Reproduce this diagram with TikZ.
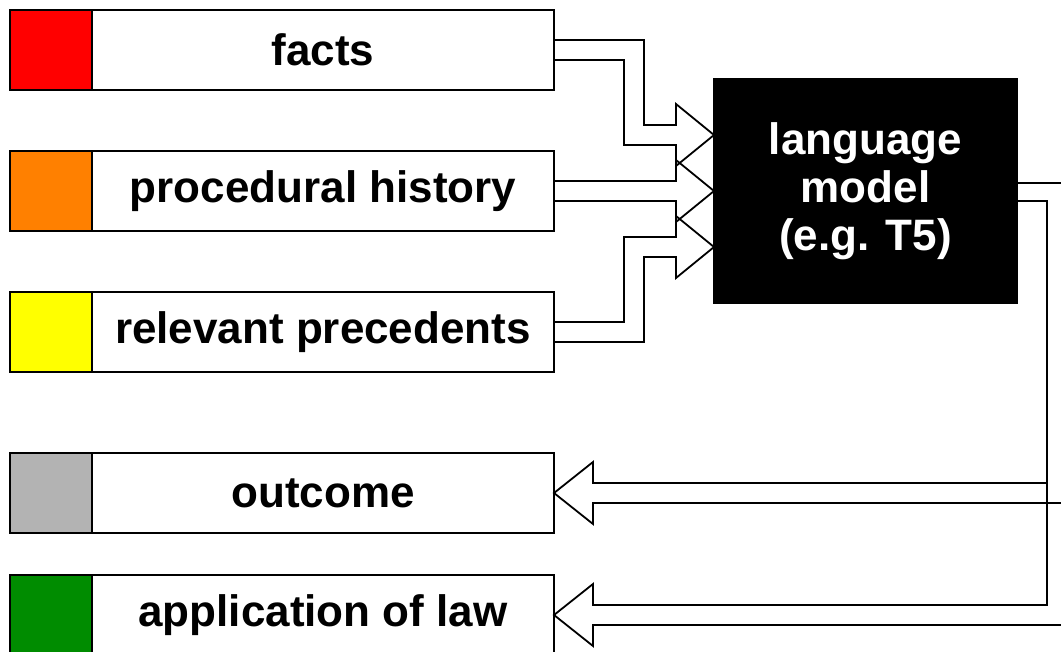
\documentclass[tikz,border=0pt]{standalone}
\usepackage{fontspec}
\setmainfont{Liberation Sans}
\usetikzlibrary{calc}
\definecolor{cred}{HTML}{FF0000}
\definecolor{corange}{HTML}{FF8000}
\definecolor{cyellow}{HTML}{FFFF00}
\definecolor{cgray}{HTML}{B3B3B3}
\definecolor{cgreen}{HTML}{008C00}
\begin{document}
\begin{tikzpicture}[x=1pt,y=-1pt,
  swatch/.style={draw=black, line width=2pt, minimum width=82pt, minimum height=80pt, inner sep=0pt, outer sep=0pt, anchor=north west},
  textbox/.style={draw=black, line width=2pt, fill=white, minimum width=462pt, minimum height=80pt, inner sep=0pt, outer sep=0pt, anchor=west, font=\fontsize{44}{50}\selectfont\bfseries},
  lmbox/.style={fill=black, draw=black, line width=2pt, minimum width=303pt, minimum height=224pt, inner sep=0pt, outer sep=0pt, anchor=north west, text=white, align=center, font=\fontsize{44}{48}\selectfont\bfseries},
  flex/.style={draw=black, line width=1.8pt, line join=miter}]
\useasboundingbox (0,0) rectangle (1061,652);
\fill[white] (0,0) rectangle (1061,652);
\clip (0,0) rectangle (1061,652);

% input boxes
\node[swatch, fill=cred] (sq1) at (10,10) {};
\node[textbox] (facts) at (sq1.east) {facts};
\node[swatch, fill=corange] (sq2) at (10,151) {};
\node[textbox] (proc) at (sq2.east) {procedural history};
\node[swatch, fill=cyellow] (sq3) at (10,292) {};
\node[textbox] (rel) at (sq3.east) {relevant precedents};
% output boxes
\node[swatch, fill=cgray] (sq4) at (10,453) {};
\node[textbox] (outc) at (sq4.east) {outcome};
\node[swatch, fill=cgreen] (sq5) at (10,575) {};
\node[textbox] (appl) at (sq5.east) {application of law};

% language model
\node[lmbox] (lm) at (714,79) {language\\model\\(e.g. T5)};

\coordinate (t1) at ($(lm.north west)!0.25!(lm.south west)$);
\coordinate (t2) at (lm.west);
\coordinate (t3) at ($(lm.north west)!0.75!(lm.south west)$);

% input arrows
\draw[flex] ($(facts.east)+(0,-10)$) -- ++(90,0) |- ($(t1)+(-38,-10)$) -- ++(0,-21) -- (t1) -- ++(-38,31) -- ++(0,-21) -| ($(facts.east)+(70,10)$) -- ($(facts.east)+(0,10)$);
\draw[flex] ($(proc.east)+(0,-10)$) -- ($(t2)+(-38,-10)$) -- ++(0,-21) -- (t2) -- ++(-38,31) -- ++(0,-21) -- ($(proc.east)+(0,10)$);
\draw[flex] ($(rel.east)+(0,-10)$) -| ($(t3)+(-90,-10)$) -- ($(t3)+(-38,-10)$) -- ++(0,-21) -- (t3) -- ++(-38,31) -- ++(0,-21) -| ($(rel.east)+(90,10)$) -- ($(rel.east)+(0,10)$);

% output arrows
\draw[flex] ($(lm.east)+(0,-8)$) -- ($(lm.east)+(80,-8)$);
\draw[flex] ($(lm.east)+(0,10)$) -| ($(appl.east)+(493,-10)$) -- ($(appl.east)+(39,-10)$) -- ++(0,-21) -- (appl.east) -- ++(39,31) -- ++(0,-21) -- ++(540,0);
\draw[flex] ($(outc.east)+(493,-10)$) -- ($(outc.east)+(39,-10)$) -- ++(0,-21) -- (outc.east) -- ++(39,31) -- ++(0,-21) -- ++(540,0);
\end{tikzpicture}
\end{document}
